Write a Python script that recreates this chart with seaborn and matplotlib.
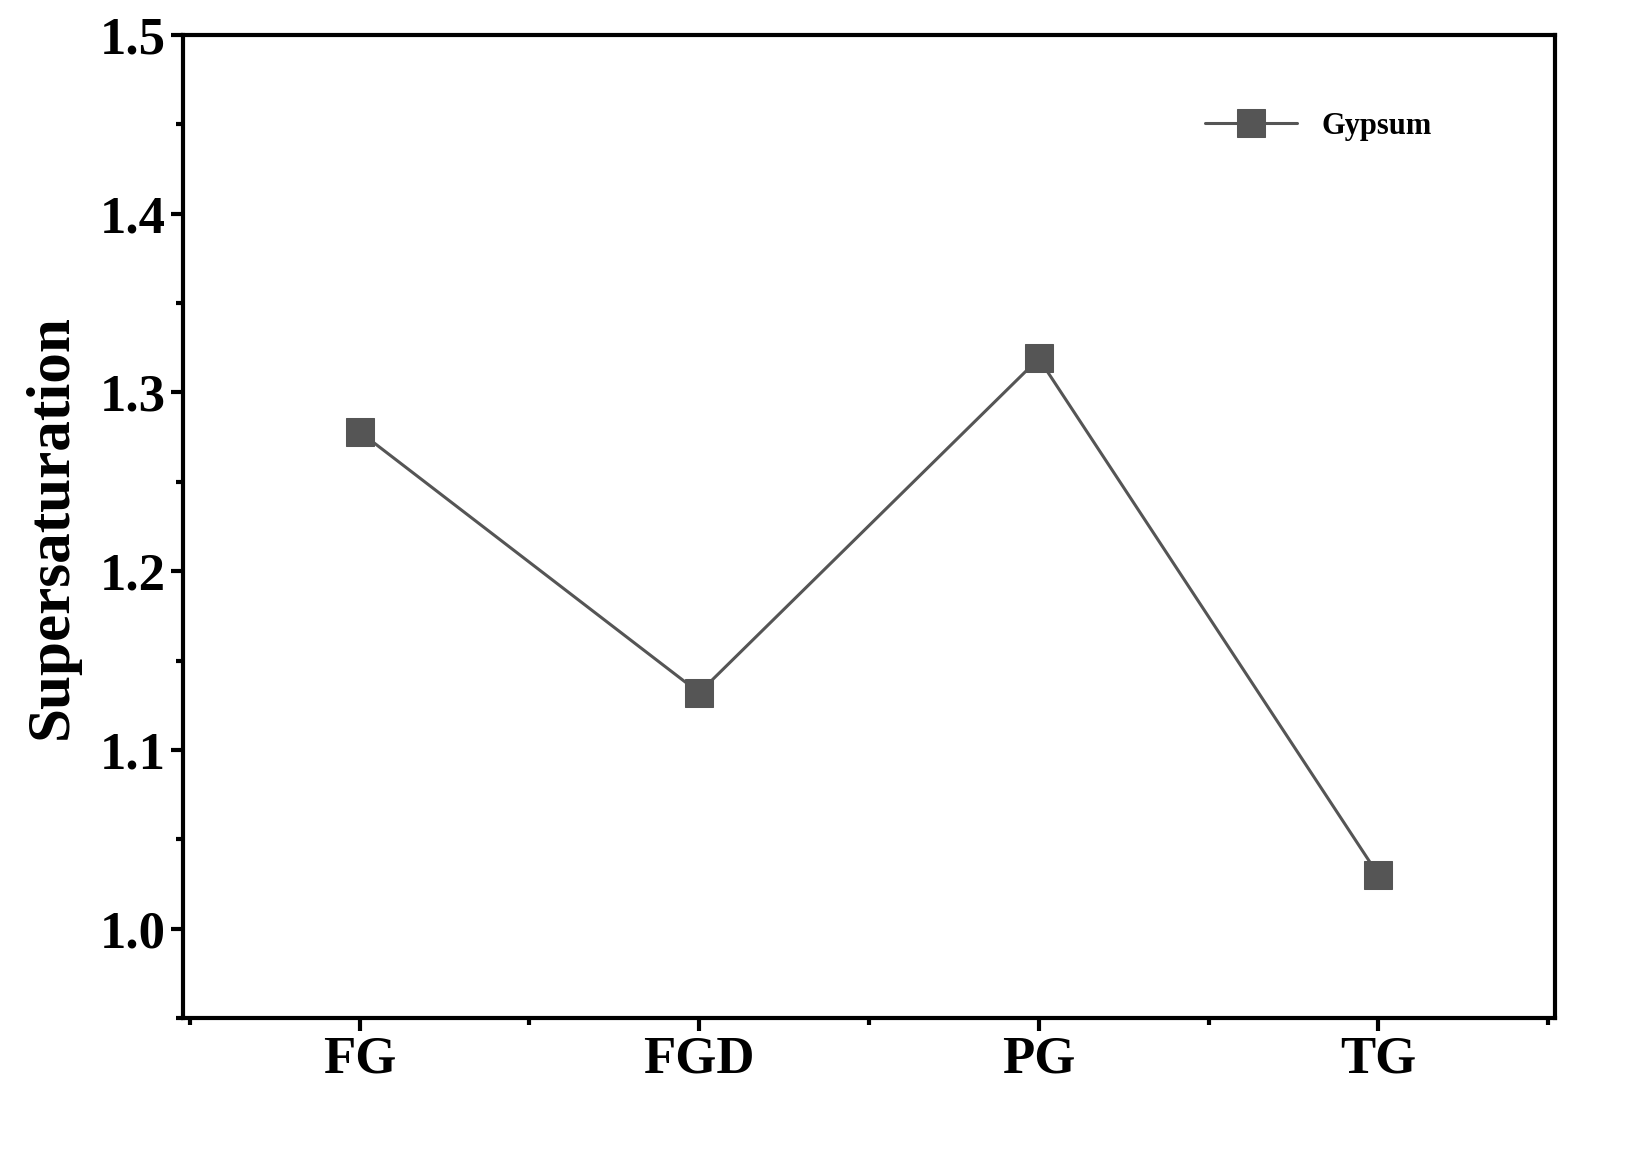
import matplotlib
matplotlib.use("Agg")
import matplotlib.pyplot as plt
import seaborn as sns
import pandas as pd
from matplotlib.ticker import MultipleLocator

categories = ["FG", "FGD", "PG", "TG"]
supersaturation = [1.278, 1.132, 1.319, 1.030]

df = pd.DataFrame({"x": range(len(categories)), "y": supersaturation})

sns.set_style("ticks")
plt.rcParams["font.family"] = ["Liberation Serif", "DejaVu Serif"]
plt.rcParams["font.weight"] = "bold"
plt.rcParams["text.color"] = "black"
plt.rcParams["axes.labelcolor"] = "black"
plt.rcParams["xtick.color"] = "black"
plt.rcParams["ytick.color"] = "black"
plt.rcParams["axes.edgecolor"] = "black"

fig = plt.figure(figsize=(16.26, 11.62), dpi=100)
ax = fig.add_axes([183 / 1626, 1 - 1018 / 1162, (1555 - 183) / 1626, (1018 - 35) / 1162])

sns.lineplot(data=df, x="x", y="y", ax=ax, color="#555555", linewidth=2.2,
             marker="s", markersize=20, markeredgecolor="#555555", label="Gypsum")

ax.set_xlim(-0.52, 3.52)
ax.set_ylim(0.95, 1.5)
ax.set_xticks(range(len(categories)))
ax.set_xticklabels(categories)
ax.xaxis.set_minor_locator(MultipleLocator(0.5))
ax.yaxis.set_major_locator(MultipleLocator(0.1))
ax.yaxis.set_minor_locator(MultipleLocator(0.05))
ax.tick_params(which="major", length=9, width=3, labelsize=38, direction="out")
ax.tick_params(which="minor", length=5, width=3, direction="out")
for lab in ax.get_xticklabels() + ax.get_yticklabels():
    lab.set_fontweight("bold")
for s in ax.spines.values():
    s.set_linewidth(3)
    s.set_visible(True)
ax.set_xlabel("")
ax.set_ylabel("Supersaturation", fontsize=44, fontweight="bold", labelpad=14)

leg = ax.legend(loc="upper right", bbox_to_anchor=(0.93, 0.95), frameon=False,
                prop={"size": 22, "weight": "bold"}, handlelength=3)

fig.savefig("out.png", dpi=100)
